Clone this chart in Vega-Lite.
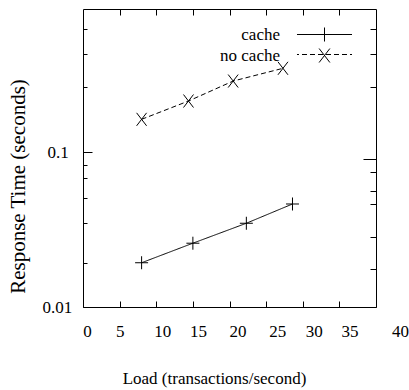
{
  "$schema": "https://vega.github.io/schema/vega-lite/v6.json",
  "width": 293,
  "height": 298,
  "autosize": "none",
  "padding": {"left": 83, "top": 9, "right": 33, "bottom": 83},
  "background": "white",
  "config": {
    "view": {"stroke": "black", "strokeWidth": 1},
    "font": "Liberation Serif, DejaVu Serif, serif",
    "axis": {
      "domain": false,
      "grid": false,
      "tickColor": "black",
      "tickWidth": 1,
      "labelColor": "black",
      "labelFont": "Liberation Serif, DejaVu Serif, serif",
      "labelFontSize": 17,
      "titleFont": "Liberation Serif, DejaVu Serif, serif",
      "titleFontWeight": "normal",
      "titleColor": "black"
    },
    "legend": {"labelFont": "Liberation Serif, DejaVu Serif, serif", "labelFontSize": 17, "labelColor": "black"}
  },
  "data": {
    "values": [
      {"series": "cache", "load": 8.0, "time": 0.0193},
      {"series": "cache", "load": 15.0, "time": 0.0258},
      {"series": "cache", "load": 22.3, "time": 0.0347},
      {"series": "cache", "load": 28.6, "time": 0.0462},
      {"series": "no cache", "load": 8.0, "time": 0.1625},
      {"series": "no cache", "load": 14.4, "time": 0.2133},
      {"series": "no cache", "load": 20.5, "time": 0.287},
      {"series": "no cache", "load": 27.3, "time": 0.3468}
    ]
  },
  "layer": [
    {
      "mark": {"type": "line", "color": "black", "strokeWidth": 1},
      "encoding": {
        "x": {
          "field": "load", "type": "quantitative",
          "scale": {"domain": [0, 40], "nice": false, "zero": false},
          "axis": {
            "orient": "bottom",
            "values": [0, 5, 10, 15, 20, 25, 30, 35, 40],
            "tickSize": -6,
            "labelPadding": 22,
            "labelBaseline": "top",
            "labelFlush": false,
            "labelOverlap": false,
            "title": "Load (transactions/second)",
            "titleFontSize": 17,
            "titleX": 131,
            "titleY": 71,
            "titleAnchor": null,
            "titleAlign": "center",
            "titleBaseline": "middle",
            "labelOffset": {"signal": "[4,0,6,5,8,11,11,10,24][round(datum.value/5)]"}
          }
        },
        "y": {
          "field": "time", "type": "quantitative",
          "scale": {"type": "log", "domain": [0.01, 0.837], "nice": false},
          "axis": {
            "orient": "left",
            "values": [0.01, 0.0192, 0.0348, 0.0505, 0.068, 0.0824, 0.1, 0.263, 0.429, 0.622],
            "tickSize": {"condition": {"test": "datum.value == 0.1", "value": -9}, "value": -4},
            "labelExpr": "datum.value == 0.1 ? '0.1' : datum.value == 0.01 ? '0.01' : ''",
            "labelAlign": "left",
            "labelBaseline": "middle",
            "labelPadding": 45,
            "labelFlush": false,
            "labelOverlap": false,
            "title": "Response Time (seconds)",
            "titleFontSize": 21,
            "titleAngle": -90,
            "titleX": -65,
            "titleY": 177,
            "titleAlign": "center",
            "titleBaseline": "middle"
          }
        },
        "strokeDash": {
          "field": "series", "type": "nominal",
          "scale": {"domain": ["cache", "no cache"], "range": [[1, 0], [5, 3]]},
          "legend": {
            "title": null,
            "orient": "none",
            "legendX": 233,
            "legendY": 17,
            "padding": 0,
            "symbolType": "M-3.93,0H3.93",
            "symbolSize": 196,
            "symbolStrokeWidth": 1,
            "symbolStrokeColor": "black",
            "symbolDashOffset": 3,
            "symbolOpacity": 1,
            "labelOpacity": 0,
            "labelAlign": "right",
            "labelBaseline": "middle",
            "labelOffset": -53,
            "rowPadding": 2
          }
        }
      }
    },
    {
      "mark": {"type": "point", "filled": false, "color": "black", "strokeWidth": 1, "size": 169, "opacity": 1},
      "encoding": {
        "x": {
          "field": "load", "type": "quantitative",
          "scale": {"domain": [0, 40], "nice": false, "zero": false},
          "axis": {"orient": "top", "values": [5, 10, 15, 20, 25, 30, 35], "tickSize": -6, "labels": false, "title": null}
        },
        "y": {
          "field": "time", "type": "quantitative",
          "scale": {"type": "log", "domain": [0.01, 0.837], "nice": false},
          "axis": {
            "orient": "right",
            "values": [0.0176, 0.0283, 0.0462, 0.0561, 0.0743, 0.0901, 0.263, 0.429, 0.622],
            "tickSize": {"condition": {"test": "datum.value == 0.0901", "value": -13}, "value": -6},
            "labels": false,
            "title": null
          }
        },
        "shape": {
          "field": "series", "type": "nominal",
          "scale": {"range": ["M-1,0H1M0,-1V1", "M-0.77,-1L0.77,1M-0.77,1L0.77,-1"]},
          "legend": {
            "title": null,
            "orient": "none",
            "legendX": 233,
            "legendY": 17,
            "padding": 0,
            "symbolSize": 196,
            "symbolStrokeWidth": 1,
            "symbolStrokeColor": "black",
            "symbolFillColor": "transparent",
            "symbolOpacity": 1,
            "labelAlign": "right",
            "labelBaseline": "middle",
            "labelOffset": -53,
            "rowPadding": 2
          }
        }
      }
    }
  ],
  "resolve": {"axis": {"x": "independent", "y": "independent"}}
}
